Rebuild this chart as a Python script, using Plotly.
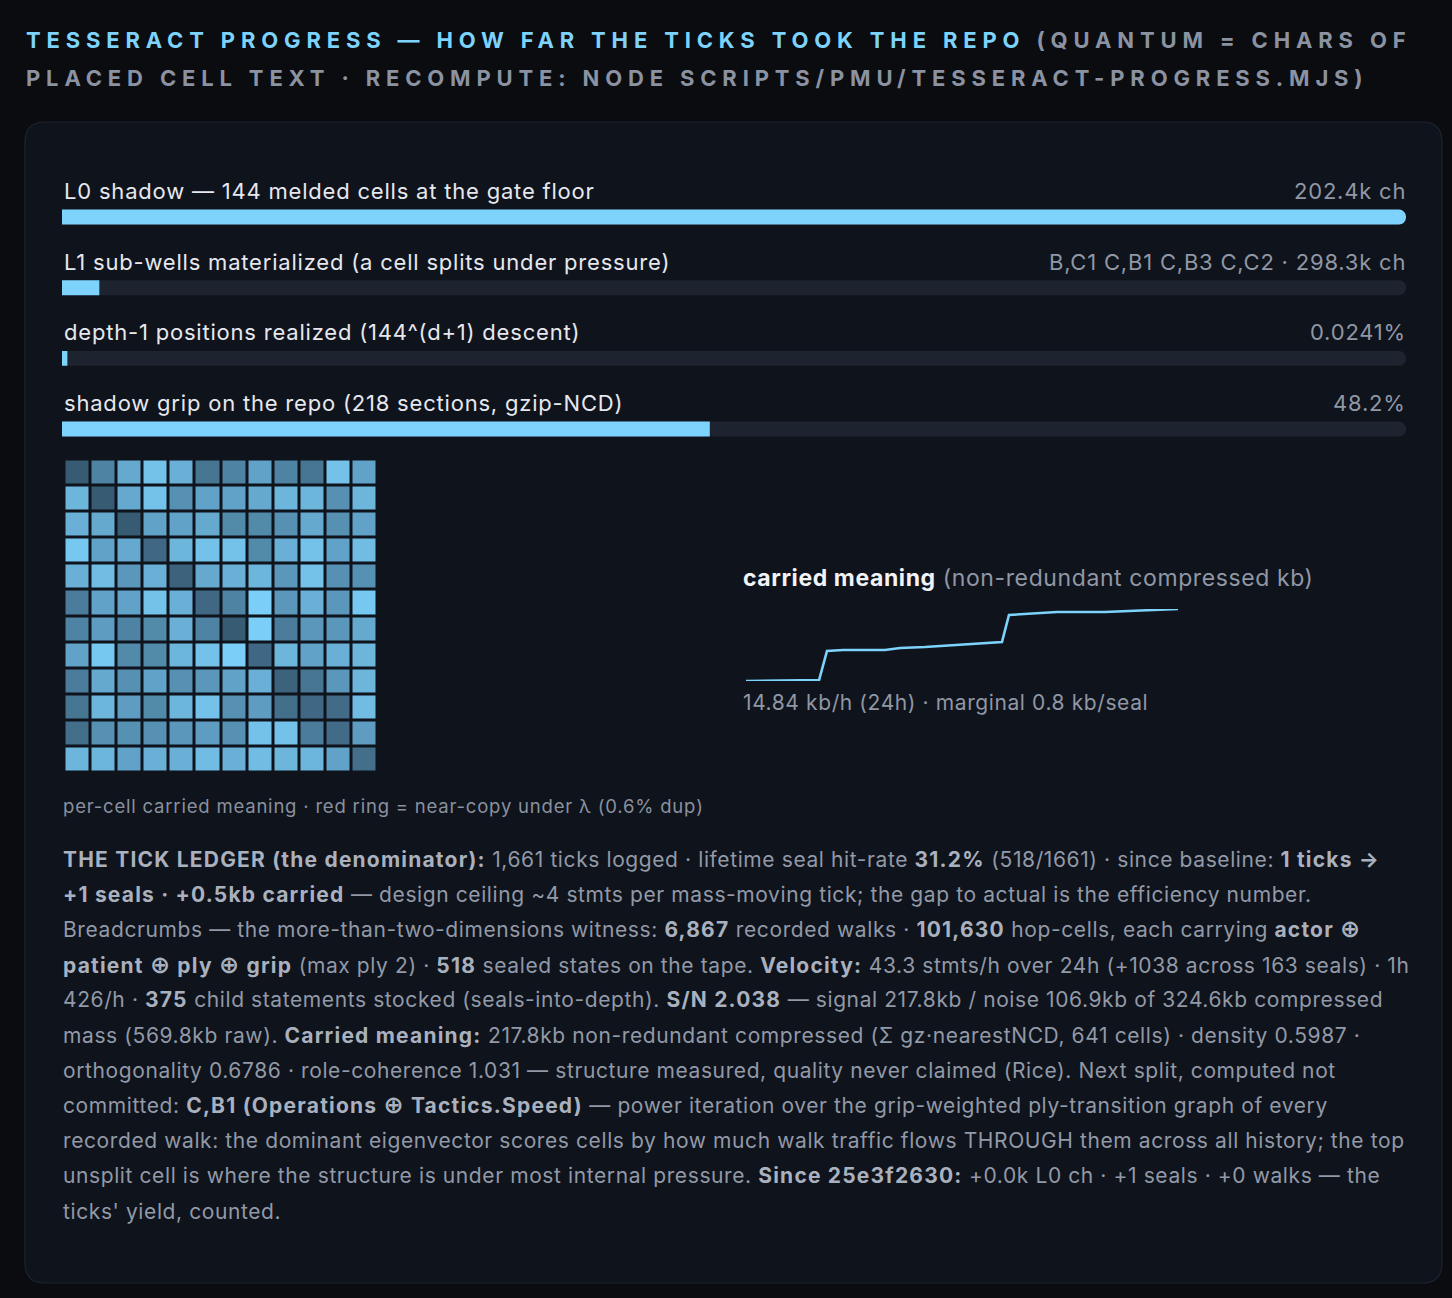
import plotly.graph_objects as go

W, H = 1452, 1298

# progress rows
row_labels = [
    "L0 shadow — 144 melded cells at the gate floor",
    "L1 sub-wells materialized (a cell splits under pressure)",
    "depth-1 positions realized (144^(d+1) descent)",
    "shadow grip on the repo (218 sections, gzip-NCD)",
]
row_values = ["202.4k ch", "B,C1 C,B1 C,B3 C,C2 · 298.3k ch", "0.0241%", "48.2%"]
row_fill = [1.0, 4 / 144, 0.000241, 0.482]

# per-cell carried meaning, 12x12 (row 0 at top)
cell_meaning = [
    [1.0, 4.0, 7.0, 9.0, 7.5, 3.0, 4.0, 6.5, 4.0, 3.0, 9.0, 6.5],
    [8.0, 1.0, 7.0, 9.0, 5.0, 6.5, 6.5, 7.0, 8.0, 8.0, 5.0, 8.0],
    [7.5, 7.0, 1.0, 6.5, 6.5, 7.0, 4.5, 4.5, 5.0, 7.0, 5.0, 6.5],
    [9.5, 6.5, 7.0, 2.0, 8.0, 9.0, 9.0, 4.5, 7.5, 9.0, 6.5, 8.5],
    [7.5, 8.5, 5.5, 7.5, 1.5, 7.0, 7.5, 8.0, 5.5, 9.0, 5.0, 5.0],
    [3.5, 6.5, 6.5, 9.0, 7.5, 2.0, 4.0, 10.0, 5.5, 7.5, 5.5, 9.5],
    [4.0, 6.0, 4.0, 4.5, 7.5, 4.0, 1.0, 10.0, 3.5, 5.5, 5.5, 7.0],
    [6.5, 9.5, 4.5, 4.5, 8.0, 9.0, 10.0, 2.0, 8.0, 6.5, 7.5, 8.0],
    [3.5, 7.0, 5.0, 6.5, 5.0, 5.5, 6.5, 7.5, 1.5, 3.0, 5.5, 8.0],
    [3.0, 8.0, 6.0, 4.5, 8.0, 9.0, 5.0, 6.0, 2.5, 2.0, 2.2, 8.5],
    [2.5, 5.0, 5.0, 5.0, 5.5, 6.0, 5.0, 9.0, 9.0, 3.5, 2.2, 6.0],
    [8.0, 8.0, 6.5, 7.5, 7.5, 8.5, 7.5, 8.5, 8.0, 8.0, 6.5, 2.5],
]

# carried meaning over the last 24h (kb)
spark_hours = [0, 4.06, 4.5, 5.39, 7.72, 8.56, 9.94, 11.61, 13.56, 14.22,
               14.61, 15.78, 17.28, 19.94, 21.06, 22.44, 24.0]
spark_kb = [181.8, 182.3, 196.8, 197.3, 197.3, 198.3, 198.8, 199.8, 200.8, 201.3,
            214.8, 215.3, 216.3, 216.3, 216.8, 217.3, 217.8]

ledger_lines = [
    "<b>THE TICK LEDGER (the denominator):</b> 1,661 ticks logged · lifetime seal hit-rate <b>31.2%</b> (518/1661) · since baseline: <b>1 ticks →</b>",
    "<b>+1 seals · +0.5kb carried</b> — design ceiling ~4 stmts per mass-moving tick; the gap to actual is the efficiency number.",
    "Breadcrumbs — the more-than-two-dimensions witness: <b>6,867</b> recorded walks · <b>101,630</b> hop-cells, each carrying <b>actor ⊕</b>",
    "<b>patient ⊕ ply ⊕ grip</b> (max ply 2) · <b>518</b> sealed states on the tape. <b>Velocity:</b> 43.3 stmts/h over 24h (+1038 across 163 seals) · 1h",
    "426/h · <b>375</b> child statements stocked (seals-into-depth). <b>S/N 2.038</b> — signal 217.8kb / noise 106.9kb of 324.6kb compressed",
    "mass (569.8kb raw). <b>Carried meaning:</b> 217.8kb non-redundant compressed (Σ gz·nearestNCD, 641 cells) · density 0.5987 ·",
    "orthogonality 0.6786 · role-coherence 1.031 — structure measured, quality never claimed (Rice). Next split, computed not",
    "committed: <b>C,B1 (Operations ⊕ Tactics.Speed)</b> — power iteration over the grip-weighted ply-transition graph of every",
    "recorded walk: the dominant eigenvector scores cells by how much walk traffic flows THROUGH them across all history; the top",
    "unsplit cell is where the structure is under most internal pressure. <b>Since 25e3f2630:</b> +0.0k L0 ch · +1 seals · +0 walks — the",
    "ticks' yield, counted.",
]

SKY = "#7dd3fc"
TRACK = "#1e2330"
PANEL = "#0f131c"
PAGE = "#0a0c10"
TEXT = "#e6e8ee"
MUTED = "#9097a5"
FONT = "Inter"


def px_x(v):
    return v / W


def px_y(v):
    return 1 - v / H


def spaced(s, px):
    return f"<span style='letter-spacing:{px}px'>{s}</span>"


def small_oplus(s):
    return s.replace("⊕", "<span style='font-family:DejaVu Sans;font-size:24px'>⊕</span>")


fig = go.Figure()

# progress bars
rows = list(range(len(row_labels)))
fig.add_trace(go.Bar(x=[1] * len(rows), y=rows, orientation="h", width=0.21,
                     marker=dict(color=TRACK, cornerradius=8, line=dict(width=0)),
                     hoverinfo="skip", xaxis="x", yaxis="y"))
fig.add_trace(go.Bar(x=[max(v, 0.004) for v in row_fill], y=rows, orientation="h", width=0.21,
                     marker=dict(color=SKY, cornerradius=8, line=dict(width=0)),
                     hoverinfo="skip", xaxis="x", yaxis="y"))

# cell grid
fig.add_trace(go.Heatmap(z=cell_meaning, xgap=3, ygap=3, zmin=1, zmax=10,
                         colorscale=[[0, "#385b74"], [0.5, "#5a97ba"], [1, "#7bcef8"]],
                         showscale=False, hoverinfo="skip", xaxis="x2", yaxis="y2"))

# sparkline
fig.add_trace(go.Scatter(x=spark_hours, y=spark_kb, mode="lines",
                         line=dict(color=SKY, width=2.6), hoverinfo="skip",
                         xaxis="x3", yaxis="y3"))

row_top = 181.7
row_h = 70.67
bar_dom = [px_y(row_top + row_h * 4), px_y(row_top)]

hidden = dict(visible=False, fixedrange=True)
fig.update_layout(
    width=W, height=H,
    margin=dict(l=0, r=0, t=0, b=0),
    paper_bgcolor=PAGE, plot_bgcolor="rgba(0,0,0,0)",
    showlegend=False, barmode="overlay",
    xaxis=dict(domain=[px_x(62), px_x(1406)], range=[0, 1], **hidden),
    yaxis=dict(domain=bar_dom, range=[3.5, -0.5], **hidden),
    xaxis2=dict(domain=[px_x(64.5), px_x(377.5)], range=[-0.5, 11.5], **hidden),
    yaxis2=dict(domain=[px_y(772.5), px_y(459.5)], range=[11.5, -0.5], **hidden),
    xaxis3=dict(domain=[px_x(746), px_x(1178)], range=[0, 24], **hidden),
    yaxis3=dict(domain=[px_y(681), px_y(609)], range=[min(spark_kb), max(spark_kb)], **hidden),
)

# panel with rounded corners
x0, x1, y0, y1, r = px_x(25), px_x(1442), px_y(122), px_y(1283), 20
rx, ry = r / W, r / H
panel_path = (f"M {x0 + rx} {y0} L {x1 - rx} {y0} Q {x1} {y0} {x1} {y0 - ry} "
              f"L {x1} {y1 + ry} Q {x1} {y1} {x1 - rx} {y1} "
              f"L {x0 + rx} {y1} Q {x0} {y1} {x0} {y1 + ry} "
              f"L {x0} {y0 - ry} Q {x0} {y0} {x0 + rx} {y0} Z")
fig.add_shape(type="path", path=panel_path, xref="paper", yref="paper",
              fillcolor=PANEL, line=dict(color="#1d2330", width=1.2), layer="below")

ann = []
title_font = dict(family=FONT, size=22, color="#8b92a1", weight="bold")
ann.append(dict(
    text=spaced(f"<span style='fill:{SKY}'>TESSERACT PROGRESS — HOW FAR THE TICKS TOOK THE REPO</span> "
                f"(QUANTUM = CHARS OF", 5.85),
    x=px_x(24), y=px_y(40), font=title_font))
ann.append(dict(
    text=spaced("PLACED CELL TEXT · RECOMPUTE: NODE SCRIPTS/PMU/TESSERACT-PROGRESS.MJS)", 5.85),
    x=px_x(24), y=px_y(78), font=title_font))

for i in rows:
    ann.append(dict(text=spaced(row_labels[i], 0.8), xref="x", yref="y", x=0, y=i, yshift=26,
                    font=dict(family=FONT, size=22, color=TEXT)))
    ann.append(dict(text=spaced(row_values[i], 0.8), xref="x", yref="y", x=1, y=i, yshift=26,
                    xshift=2, xanchor="right", font=dict(family=FONT, size=22, color=MUTED)))

ann.append(dict(text=spaced("<b><span style='fill:#f1f3f7'>carried meaning</span></b> (non-redundant compressed kb)", 0.6),
                x=px_x(741), y=px_y(578), font=dict(family=FONT, size=23, color=MUTED)))
ann.append(dict(text=spaced("14.84 kb/h (24h) · marginal 0.8 kb/seal", 0.6),
                x=px_x(741), y=px_y(702), font=dict(family=FONT, size=21, color=MUTED)))
ann.append(dict(text=spaced("per-cell carried meaning · red ring = near-copy under λ (0.6% dup)", 0.8),
                x=px_x(61), y=px_y(806), font=dict(family=FONT, size=18.5, color="#8a919e")))

for k, line in enumerate(ledger_lines):
    line = line.replace("<b>", "<b><span style='fill:#aab1be;letter-spacing:1.2px'>").replace("</b>", "</span></b>")
    ann.append(dict(text=spaced(small_oplus(line), 0.6), x=px_x(61), y=px_y(859 + k * 35.2),
                    font=dict(family=FONT, size=21, color="#9299a7")))

for a in ann:
    a.setdefault("xref", "paper")
    a.setdefault("yref", "paper")
    a.setdefault("xanchor", "left")
    a.update(yanchor="middle", showarrow=False, align="left")
fig.update_layout(annotations=ann)

fig.write_html("out.html", config={"displayModeBar": False, "staticPlot": True},
               post_script=f"document.body.style.margin='0';document.body.style.background='{PAGE}';")
